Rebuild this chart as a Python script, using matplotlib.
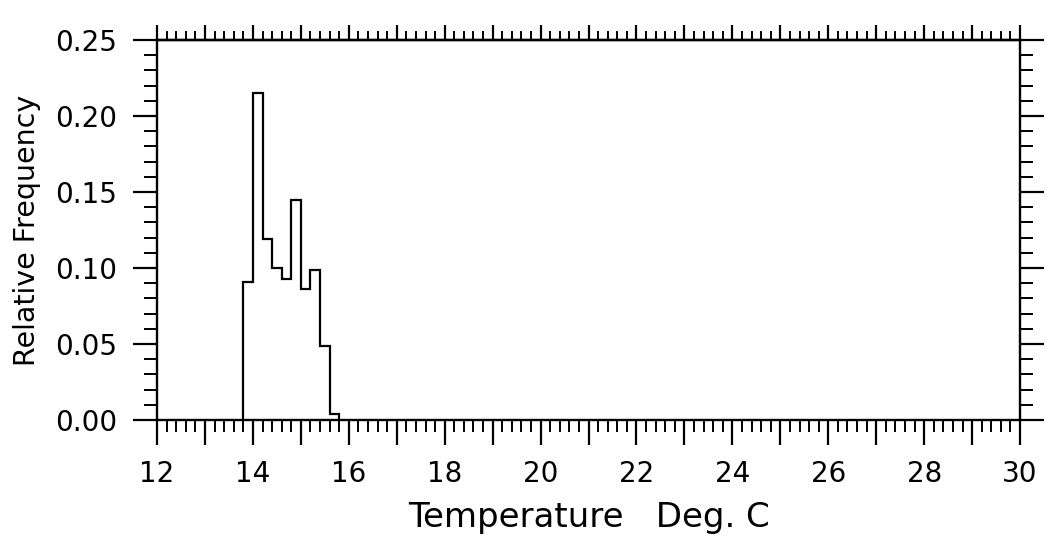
import matplotlib
matplotlib.use("Agg")
import matplotlib.pyplot as plt
from matplotlib.ticker import MultipleLocator, FixedLocator, NullFormatter

# histogram data
bin_edges = [13.8, 14.0, 14.2, 14.4, 14.6, 14.8, 15.0, 15.2, 15.4, 15.6, 15.8]
rel_freq = [0.091, 0.215, 0.119, 0.100, 0.093, 0.145, 0.086, 0.099, 0.049, 0.004]

y_ticks = [0.00, 0.05, 0.10, 0.15, 0.20, 0.25]

plt.rcParams['font.family'] = ['DejaVu Sans']

fig = plt.figure(figsize=(10.49, 5.38), dpi=100)
ax = fig.add_axes([0.1497, 0.2193, 0.8227, 0.7064])

ax.stairs(rel_freq, bin_edges, color='black', lw=1.6, baseline=0)

ax.set_xlim(12, 30)
ax.set_ylim(0, 0.25)

for s in ax.spines.values():
    s.set_linewidth(1.7)

# bottom axis: long ticks every unit, labels every 2
ax.xaxis.set_major_locator(MultipleLocator(1))
ax.xaxis.set_minor_locator(MultipleLocator(0.2))
ax.xaxis.set_major_formatter(plt.FuncFormatter(lambda v, p: f"{v:.0f}" if round(v) % 2 == 0 else ""))
ax.tick_params(axis='x', which='major', direction='out', length=18, width=1.6,
               labelsize=20, pad=11)
ax.tick_params(axis='x', which='minor', direction='out', length=8.5, width=1.4)

# y axis, ticks on both sides
ax.yaxis.set_major_locator(FixedLocator(y_ticks))
ax.yaxis.set_minor_locator(MultipleLocator(0.01))
ax.yaxis.set_major_formatter(plt.FuncFormatter(lambda v, p: f"{v:.2f}"))
ax.tick_params(axis='y', which='major', direction='out', length=17.5, width=1.6,
               labelsize=20, pad=11, right=True)
ax.tick_params(axis='y', which='minor', direction='out', length=9.5, width=1.4, right=True)

# top axis with shorter ticks
top = ax.secondary_xaxis('top')
top.xaxis.set_major_locator(MultipleLocator(1))
top.xaxis.set_minor_locator(MultipleLocator(0.2))
top.xaxis.set_major_formatter(NullFormatter())
top.tick_params(which='major', direction='out', length=11, width=1.6)
top.tick_params(which='minor', direction='out', length=6.5, width=1.4)
top.spines['top'].set_linewidth(1.7)

ax.set_xlabel('Temperature   Deg. C', fontsize=24.5, labelpad=9)
ax.set_ylabel('Relative Frequency', fontsize=20.5, labelpad=10)

fig.savefig('out.png', dpi=100)
